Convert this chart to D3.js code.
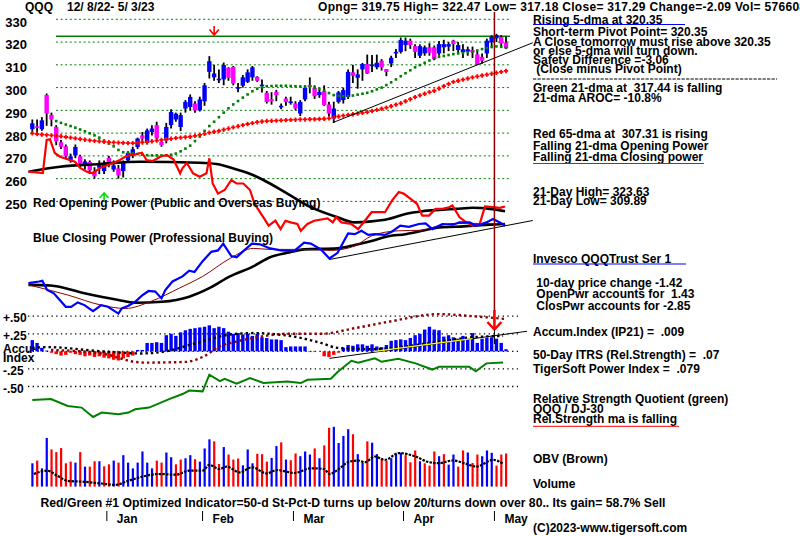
<!DOCTYPE html>
<html><head><meta charset="utf-8">
<script src="https://cdn.jsdelivr.net/npm/d3@7"></script>
<style>
body{margin:0;background:#fff}
svg{display:block}
text{font-family:"Liberation Sans",Arial,sans-serif;font-weight:bold;font-size:12px;fill:#000;white-space:pre}
</style></head>
<body><svg id="c" width="800" height="536"></svg>
<script>
// ---------- DATA ----------
const priceTicks = [330,320,310,300,290,280,270,260,250];
const resistance = 322.6;
const opens  = [281.7,283.0,281.7,296.7,288.0,282.7,276.0,274.2,268.0,270.2,
  269.8,266.1,267.3,263.3,264.8,263.3,269.1,264.0,264.5,263.3,
  268.0,270.2,273.9,279.0,276.1,280.5,283.5,276.1,276.8,283.5,
  286.0,282.7,290.8,291.5,293.0,290.0,294.0,306.9,304.5,303.6,
  303.6,308.7,309.1,299.9,300.8,302.5,304.5,304.7,301.0,297.7,
  294.9,298.1,291.7,295.2,293.6,293.0,288.6,294.8,301.1,299.9,
  296.7,298.4,292.6,286.4,293.7,294.5,295.9,306.7,304.3,308.0,
  310.3,309.8,308.9,311.8,308.1,310.6,315.0,315.7,318.7,320.6,
  318.2,314.0,315.0,317.7,317.7,315.0,317.7,318.0,320.6,316.5,
  315.5,315.8,316.5,314.6,313.5,315.0,319.9,321.6,322.3,319.75];
const closes = [284.3,282.3,285.6,288.6,286.0,276.4,274.0,269.8,269.8,273.9,
  266.6,267.6,263.6,261.0,266.3,266.3,266.3,265.8,261.4,267.3,
  271.3,272.9,277.6,277.6,281.2,282.0,277.7,274.7,282.7,289.3,
  288.5,287.9,293.7,295.9,289.9,294.8,301.0,311.6,306.2,303.9,
  309.9,304.3,301.8,300.2,304.5,306.7,308.9,303.0,301.3,293.7,
  294.0,296.7,292.0,293.7,293.9,290.8,293.7,299.9,300.3,296.2,
  298.1,292.3,288.6,290.8,297.9,298.9,306.9,305.2,305.8,310.3,
  306.2,310.1,310.9,308.9,306.9,313.1,315.7,320.9,320.6,318.7,
  315.7,318.2,317.7,315.3,312.5,319.1,319.1,319.1,319.1,318.7,
  316.8,316.8,315.5,310.2,311.8,320.6,322.3,323.1,319.4,317.29];
const highs = [286,286,287,297.4,289,283.5,277,275,271,275,
  270.5,268.5,268,265,268,268,270,268,266,268,
  272,274,278,280.5,282,283.5,285,277,284.5,290.5,
  289,289,294.5,297,294,296,302,313.8,310,308,
  311,309,309.5,302,305.5,308,309.5,305,303.5,298.5,
  298,299,293,296,296,294,294.5,301,304.5,301,
  299,301,293.8,293.8,298.5,300,308,310,308,310.8,
  314.5,314.3,314.5,312.5,308.1,314,317,322,322,321.5,
  319,319,318.5,319.5,318.5,320.5,321,320,321,320,
  319,318,318,316,315,321.5,323,323.6,323,322.47];
const lows = [280,280,281,283.2,283,274.7,273,269,267,269,
  265,264,262,260,262,262,265,263,260,260.5,
  267,269,273,276,275,279,277,274,275.5,282,
  285,280.9,289,290,289,289.5,292,304,303,302,
  301,303,301,298,300,302,303,302.5,297.8,293,
  292.5,294,290.5,292,292.5,290,287.5,294,297.5,295,
  295.5,292,287.5,284.5,293,293,295,302,299.5,303,
  306,306.9,308,307.5,305,309,313,315,316,317,
  313,313,314,314,312,314,315,316,316,315,
  313,314,313,309.9,310.5,313,318,320,318,317.18];
const ma65 = [279.9,279.6,279.4,279.2,279.0,278.8,278.6,278.3,278.0,277.7,
  277.4,277.1,276.8,276.6,276.4,276.2,276.0,275.9,275.8,275.7,
  275.6,275.6,275.7,275.9,276.1,276.4,276.7,277.0,277.3,277.5,
  277.8,278.0,278.2,278.4,278.8,279.2,279.7,280.2,280.6,281.0,
  281.5,282.0,282.5,283.0,283.5,284.0,284.4,284.8,285.1,285.3,
  285.4,285.5,285.6,285.7,285.8,285.9,286.0,286.0,286.1,286.1,
  286.2,286.3,286.5,286.9,287.3,287.7,288.0,288.3,288.6,288.9,
  289.2,289.7,290.2,290.7,291.2,291.8,292.5,293.1,294.0,294.9,
  295.8,296.6,297.3,298.0,298.6,299.6,300.6,301.6,302.5,303.0,
  303.5,304.0,304.5,304.9,305.3,305.7,306.1,306.5,306.9,307.3];
const ma21Start = 5;
const ma21 = [285.3,284.5,283.8,283.1,282.4,281.6,280.8,279.9,279.0,278.0,
  276.7,275.4,274.2,272.6,271.6,271.4,271.1,270.8,270.5,270.3,
  270.2,270.2,270.2,270.2,270.5,271.0,272.0,273.2,274.5,276.5,
  278.5,281.0,283.1,285.0,287.0,289.0,290.9,292.6,294.1,295.6,
  297.0,298.4,299.5,300.2,300.6,300.7,300.8,300.8,300.8,300.7,
  300.6,300.5,300.4,300.2,300.0,299.4,298.6,297.6,296.7,296.4,
  296.2,296.2,296.5,296.9,297.3,297.7,298.4,299.2,300.0,301.1,
  302.3,303.6,305.0,306.3,307.6,308.9,309.9,310.9,311.9,312.9,
  313.5,313.9,314.3,314.7,315.0,315.2,315.5,315.7,316.3,316.9,
  317.4,317.8,318.1,317.9,317.44];
const priceTrend = [[62.8,284.6],[104.6,319.7]];
// Opening / Closing power panel  [bar index, level]
const openPower = [[-0.8,128.3],[2.2,127],[3,160],[3.7,160.7],[4.7,147],[5.8,143.3],[8.9,138.3],[10,132],[11.4,128.3],[12.7,126.7],
  [14.1,132],[16.9,137],[18.3,140],[19.4,143.3],[20.4,145],[21.8,146],[22.9,147.3],[23.9,140],[25.2,139],[26.7,143.3],
  [28.1,145],[29.5,140.7],[30.9,126.7],[31.4,132],[32.3,137],[33.6,126.7],[35,123.3],[36.4,126.7],[37,141.7],[37.7,116.5],
  [38.8,106.4],[40.2,110],[41.6,120],[42.7,116.5],[44.1,116.5],[45.5,110],[46.2,99.6],[46.9,92.8],[48.3,82.7],[49.4,74.3],
  [50.8,79.3],[51.9,70.9],[52.9,79.3],[54,77.6],[55.4,76],[56.1,69.2],[57.5,76],[58.9,79.3],[61.7,81.7],[62.8,77.6],
  [63.5,82.7],[64.6,77.6],[66.7,76],[68.1,70.9],[69.5,79.3],[70.9,87.8],[72.3,87.8],[73.7,87.8],[75.2,99.6],[76.6,108],
  [77.6,106.4],[79,101.3],[80.4,96.2],[81.5,84.4],[82.9,84.4],[84.3,91.1],[85.7,91.1],[87.1,92.8],[87.8,94.5],[89.3,82.7],
  [90.7,77.6],[92.1,74.3],[93.5,76],[94.6,93.5],[96.3,92.8],[97.7,92.2],[98.8,93.5]];
const closePower = [[-0.8,16.8],[1.4,18.5],[2.1,19.2],[3.1,10],[4.5,6.7],[7,-6.8],[8.1,-6.8],[9.5,-2.4],[10.9,-5.1],[12.7,-11.2],
  [14.4,-5.1],[15.8,-6.8],[18,-13.6],[18.7,-8.5],[20.1,-5.8],[21.5,-1.8],[22.9,4.3],[24.3,9],[25.7,8.4],[27,1.6],
  [27.8,10],[29.3,18.5],[31.4,23.6],[32.8,29.3],[33.9,28],[35.6,38.8],[37.4,48.2],[38.8,49.6],[39.9,56.4],[41.6,43.9],
  [42.7,42.8],[44.1,48.9],[45.9,56.4],[47.6,55.7],[49.7,51.6],[51.9,49.6],[54.7,48.9],[56.8,57.4],[58.2,56.4],[60.3,50.6],
  [62.1,41.5],[63.8,47.2],[66,66.5],[67.4,65.8],[68.8,69.2],[70.2,65.1],[71.6,65.8],[73.7,65.1],[75.2,68.5],[76.9,74.3],
  [78.7,73.2],[80.8,76],[82.2,76.6],[83.6,70.9],[85.7,76],[87.9,75.3],[89.3,77.6],[91.4,77.6],[92.8,74.3],[94.9,77.6],
  [96.3,81],[97.7,77.6],[98.8,74.3]];
const openPowerMA = [[-0.8,128.3],[5.8,133.3],[14.1,136],[22.5,138.3],[35,137.3],[38.5,136],[42.7,130.5],[46.1,125],[48.3,120],[53.3,106.4],
  [58.2,92.8],[63.8,82.7],[67.4,77.6],[70.9,78.6],[74.4,81],[78,86.1],[81.5,88.8],[85,90.1],[88.5,91.1],[92.1,92.2],[95.6,91.1],[98.8,88.8]];
const closePowerMA = [[-0.8,15.1],[3.8,14.5],[10.9,6.7],[18,0],[21.5,-2.8],[27.1,-1.8],[32.8,3.3],[37,11.8],[41.3,23.6],[46.2,33.7],
  [49.7,42.8],[53.3,47.2],[56.8,50.6],[63.8,51.6],[67.4,55],[70.9,59],[74.4,63.8],[78,65.8],[81.5,69.2],[85,72.6],[88.5,73.2],[92.1,74.3],[95.6,75.3],[98.8,76]];
const closePowerMA2 = [[-0.8,15.1],[7.4,5],[14.4,-5.1],[19.4,-8.5],[25,-1],[30.7,11.8],[35.6,23.6],[41.3,41.5],[46.2,51.6],[49.7,50.6],
  [56.8,50.6],[62.4,49.6],[67.4,54],[70.9,64.1],[76.5,69.2],[81.5,69.8],[85,74.3],[88.5,76.6],[92.1,76.6],[98.8,76]];
const powerTrend = [[62.1,40.5],[104.6,79.5]];
// Accumulation panel
const accumTicks = [0.5,0.25,0,-0.25,-0.5];
const accumTickLabels = ["+.50","+.25","","-.25","-.50"];
const accum = [.16,.12,.05,.01,-.02,-.04,-.06,-.05,-.02,-.04,
  -.05,-.07,-.06,-.08,-.07,-.09,-.10,-.12,-.13,-.10,
  -.08,-.06,.02,.02,.12,.12,.13,.12,.23,.25,
  .22,.27,.30,.32,.33,.34,.35,.37,.33,.35,
  .33,.28,.25,.26,.24,.25,.22,.25,.20,.19,
  .17,.17,.16,.06,.07,.07,.07,.07,-.01,-.01,
  0,-.07,-.08,-.05,-.02,.05,.09,.08,.10,.10,
  .08,.10,.07,.06,.09,.15,.16,.17,.16,.19,
  .23,.25,.31,.35,.31,.30,.21,.23,.20,.18,
  .22,.18,.26,.12,.18,.19,.20,.18,.12,.03];
const accumMA = [[0,.05],[3.2,.06],[14.5,0],[22.9,-.03],[28.6,.01],[32.8,.09],[37,.17],[41.3,.24],[46.2,.26],[49.7,.25],
  [54.7,.21],[60.3,.12],[63.8,.05],[70.9,.03],[78,.07],[85,.14],[92,.2],[98.4,.22]];
const accumMA2 = [[3.9,.02],[14.5,-.03],[21.5,-.15],[23.6,-.16],[32.1,-.15],[35.6,-.08],[39.2,.07],[42.7,.14],[46.2,.19],[53.3,.25],
  [60.3,.25],[67.4,.33],[74.4,.42],[85,.53],[92,.5],[99,.46]];
const accumYellow = [[71.6,0],[81.5,.09],[92,.18]];
const accumTrend = [[62.1,-.1],[103.4,.286]];
const relStrength = [[0,-.693],[3.9,-.679],[7.4,-.776],[10.3,-.8],[12.7,-.934],[14.5,-.871],[18,-.896],[20.1,-.871],[21.5,-.824],[24.4,-.8],
  [28.6,-.679],[31.4,-.607],[32.8,-.557],[35.6,-.569],[37,-.331],[39.2,-.423],[40.2,-.39],[42.7,-.461],[45.5,-.38],[48.3,-.451],
  [53.3,-.429],[56.1,-.451],[57.5,-.404],[62.4,-.39],[63.8,-.293],[66.7,-.134],[68.1,-.163],[71.6,-.1],[73,-.149],[76.5,-.104],
  [80.1,-.171],[83.6,-.259],[85,-.22],[91.3,-.22],[92.7,-.283],[94.9,-.171],[98.4,-.157]];
// Volume (millions) and OBV
const volume = [41.4,46.2,32.4,86.4,66,61.2,68.4,41.4,44.4,42.6,
  61.2,35.4,35.4,45,45,36,39.6,46.2,42.6,55.8,
  42.6,32.4,42.6,62.4,42.6,32.4,46.2,42.6,60.6,52.2,
  39.6,48,50.4,55.8,48.6,44.4,67.8,84,80.4,40.2,
  70.2,57,48,49.8,37.8,66,41.4,58.2,57.6,44.4,
  51,72,78.6,48,46.8,58.8,54,62.4,57,67.8,
  50.4,73.2,104.4,106.2,77.4,90,102,93,57.6,42,
  80.4,78,57.6,49.8,45.6,50.4,58.2,60,55.8,43.2,
  64.2,45,41.4,37.2,62.4,54,57.6,39,57,35.4,
  64.2,60.6,42,57,54,64.2,60,37.2,57,58.8];
const volUp = [1,0,1,1,0,0,0,0,0,1, 0,1,0,0,1,0,0,1,0,1, 1,1,1,1,1,1,0,0,1,1,
  0,0,1,1,0,1,1,1,0,0, 1,0,0,0,1,1,1,0,0,0, 1,1,0,1,0,0,1,1,1,0,
  1,0,0,1,1,1,1,0,1,1, 0,1,1,0,0,1,1,1,0,0, 0,1,0,0,0,1,0,1,1,0, 0,1,0,0,1,1,1,0,0,0];
const obv = [[0.3,16],[3.1,19.3],[5.2,14.3],[7.4,9.2],[10.9,8.2],[14.4,6.5],[17.3,5.1],[20.1,9.2],[22.9,13.2],[26.4,16],
  [30,15.3],[32.8,19.3],[35.6,19.3],[37,25.1],[39.1,21],[40.6,23.4],[43.4,17.6],[45.9,22.7],[49,16.6],[51.1,20],
  [54.7,17],[58.2,21.7],[61,21],[62.1,16],[63.8,20],[66,27.8],[68.1,29.5],[69.5,27.8],[71.6,33.5],[73.7,30.1],
  [76.6,36.9],[80.1,33.5],[82.9,27.8],[85,26.8],[87.9,29.5],[90.7,26.1],[92.8,23.4],[96.3,30.1],[98.5,26.1]];
const monthLabels = ["Jan","Feb","Mar","Apr","May"];
const monthBars = [16,36,55,78,97];
const signalBar = 97, topArrowBar = 38, upArrowBar = 15;

// ---------- SCALES ----------
const svg = d3.select("#c");
const x = d3.scaleLinear().domain([0,99]).range([32.3,506]);
const yP = d3.scaleLinear().domain([250,330]).range([201.4,19.3]);
const yPow = d3.scaleLinear().domain([0,150]).range([300,150]);
const yA = d3.scaleLinear().domain([-0.5,0.5]).range([386.5,316.2]);
const yV = d3.scaleLinear().domain([0,100]).range([486.6,430.3]);
const yO = d3.scaleLinear().domain([0,40]).range([490,450]);
const line = (ys) => d3.line().x(d=>x(d[0])).y(d=>ys(d[1]));

// ---------- PRICE PANEL ----------
svg.append("g").selectAll("line").data(priceTicks).join("line")
  .attr("x1",56).attr("x2",510).attr("y1",d=>yP(d)).attr("y2",d=>yP(d))
  .attr("stroke","#008000").attr("stroke-dasharray","2,2.6").attr("stroke-width",1);
svg.append("g").selectAll("text").data(priceTicks).join("text")
  .attr("x",27).attr("y",d=>yP(d)+7.4).attr("text-anchor","end")
  .style("font-size","13px").text(d=>d);
svg.append("line").attr("x1",56).attr("x2",510).attr("y1",yP(resistance)).attr("y2",yP(resistance))
  .attr("stroke","#008000").attr("stroke-width",1.5);

const idx = d3.range(opens.length);
const cg = svg.append("g");
cg.selectAll("line").data(idx).join("line")
  .attr("x1",i=>x(i)).attr("x2",i=>x(i)).attr("y1",i=>yP(highs[i])).attr("y2",i=>yP(lows[i]))
  .attr("stroke","#000").attr("stroke-width",1.8);
cg.selectAll("rect").data(idx).join("rect")
  .attr("x",i=>x(i)-2.2).attr("width",4.4)
  .attr("y",i=>yP(Math.max(opens[i],closes[i])))
  .attr("height",i=>Math.max(1.6,yP(Math.min(opens[i],closes[i]))-yP(Math.max(opens[i],closes[i]))))
  .attr("fill",i=>closes[i]>=opens[i]?"#0000ff":"#ff00ff");
svg.append("g").selectAll("rect").data(ma21).join("rect")
  .attr("x",(d,k)=>x(k+ma21Start)-1.3).attr("y",d=>yP(d)-1.3).attr("width",2.6).attr("height",2.6).attr("fill","#008000");
svg.append("g").selectAll("path").data(ma65).join("path")
  .attr("transform",(d,k)=>`translate(${x(k)},${yP(d)})`)
  .attr("d","M-2.2,0H2.2M0,-2.2V2.2").attr("stroke","#ff0000").attr("stroke-width",1.8);
svg.append("path").datum(priceTrend).attr("d",line(yP)).attr("fill","none").attr("stroke","#000").attr("stroke-width",1);

// ---------- POWER PANEL ----------
svg.append("path").datum(openPowerMA).attr("d",line(yPow).curve(d3.curveMonotoneX)).attr("fill","none").attr("stroke","#000").attr("stroke-width",2.6);
svg.append("path").datum(closePowerMA).attr("d",line(yPow).curve(d3.curveMonotoneX)).attr("fill","none").attr("stroke","#000").attr("stroke-width",2.6);
svg.append("path").datum(closePowerMA2).attr("d",line(yPow).curve(d3.curveMonotoneX)).attr("fill","none").attr("stroke","#8b0000").attr("stroke-width",1);
svg.append("path").datum(openPower).attr("d",line(yPow)).attr("fill","none").attr("stroke","#ff0000").attr("stroke-width",2.2);
svg.append("path").datum(closePower).attr("d",line(yPow)).attr("fill","none").attr("stroke","#0000ff").attr("stroke-width",2.2);
svg.append("path").datum(powerTrend).attr("d",line(yPow)).attr("fill","none").attr("stroke","#000").attr("stroke-width",1);
svg.append("text").attr("x",33).attr("y",207.3).text("Red Opening Power (Public and Overseas Buying)");
svg.append("text").attr("x",33).attr("y",242).text("Blue Closing Power (Professional Buying)");

// ---------- ACCUM PANEL ----------
svg.append("g").selectAll("line").data(accumTicks).join("line")
  .attr("x1",28).attr("x2",518).attr("y1",d=>yA(d)).attr("y2",d=>yA(d))
  .attr("stroke","#000").attr("stroke-dasharray","1.3,3.4").attr("stroke-width",1.3);
svg.append("g").selectAll("text").data(accumTicks).join("text")
  .attr("x",3).attr("y",d=>yA(d)+6).text((d,k)=>accumTickLabels[k]);
svg.append("text").attr("x",3).attr("y",yA(0)+1.5).text("Accu-");
svg.append("text").attr("x",3).attr("y",yA(0)+10.8).text("Index");
svg.append("g").selectAll("rect").data(accum).join("rect")
  .attr("x",(d,k)=>x(k)-1.7).attr("width",3.4)
  .attr("y",d=>d>=0?yA(d):yA(0)).attr("height",d=>Math.abs(yA(d)-yA(0)))
  .attr("fill",d=>d>=0?"#0000ff":"#ff0000");
svg.append("path").datum(accumMA).attr("d",line(yA).curve(d3.curveMonotoneX)).attr("fill","none").attr("stroke","#000").attr("stroke-width",2.4).attr("stroke-dasharray","2.4,3");
svg.append("path").datum(accumMA2).attr("d",line(yA).curve(d3.curveMonotoneX)).attr("fill","none").attr("stroke","#8b0000").attr("stroke-width",2.4).attr("stroke-dasharray","2.4,3");
svg.append("path").datum(accumTrend).attr("d",line(yA)).attr("fill","none").attr("stroke","#000").attr("stroke-width",1);
svg.append("path").datum(accumYellow).attr("d",line(yA)).attr("fill","none").attr("stroke","#ffff00").attr("stroke-width",1.3);
svg.append("path").datum(relStrength).attr("d",line(yA)).attr("fill","none").attr("stroke","#008000").attr("stroke-width",2);

// ---------- VOLUME PANEL ----------
svg.append("g").selectAll("rect").data(volume).join("rect")
  .attr("x",(d,k)=>x(k)-1).attr("width",2.2)
  .attr("y",d=>yV(d)).attr("height",d=>yV(0)-yV(d))
  .attr("fill",(d,k)=>volUp[k]?"#0000ff":"#ff0000");
svg.append("path").datum(obv).attr("d",line(yO).curve(d3.curveMonotoneX)).attr("fill","none").attr("stroke","#000").attr("stroke-width",2.2).attr("stroke-dasharray","2.5,1.2");

svg.append("g").selectAll("line").data(monthBars).join("line")
  .attr("x1",d=>x(d)-2).attr("x2",d=>x(d)-2).attr("y1",511).attr("y2",521).attr("stroke","#000").attr("stroke-width",1);
svg.append("g").selectAll("text").data(monthLabels).join("text")
  .attr("x",(d,k)=>x(monthBars[k])+8).attr("y",523).text(d=>d);

// ---------- SIGNAL MARKERS ----------
const sx = x(signalBar)-2;
svg.append("line").attr("x1",sx).attr("x2",sx).attr("y1",12).attr("y2",322).attr("stroke","#8b0000").attr("stroke-width",1.5);
svg.append("line").attr("x1",sx).attr("x2",sx).attr("y1",310).attr("y2",329).attr("stroke","#ff0000").attr("stroke-width",2.5);
svg.append("path").attr("d",`M${sx-7},322L${sx},329.5L${sx+7},322`).attr("fill","none").attr("stroke","#ff0000").attr("stroke-width",2.5);
svg.append("line").attr("x1",sx).attr("x2",sx).attr("y1",330).attr("y2",344).attr("stroke","#000").attr("stroke-width",1);
const tx = x(topArrowBar);
svg.append("line").attr("x1",tx).attr("x2",tx).attr("y1",26).attr("y2",35).attr("stroke","#ff0000").attr("stroke-width",1.6);
svg.append("path").attr("d",`M${tx-4.7},29.5L${tx},35L${tx+4.7},29.5`).attr("fill","none").attr("stroke","#ff0000").attr("stroke-width",1.6);
const ux = x(upArrowBar);
svg.append("path").attr("d",`M${ux-4.5},198L${ux},193L${ux+4.5},198M${ux},193V200.5`).attr("fill","none").attr("stroke","#00e000").attr("stroke-width",1.6);

// ---------- HEADER & TEXT ----------
svg.append("text").attr("x",25).attr("y",11).text("QQQ");
svg.append("text").attr("x",67).attr("y",11).text("12/ 8/22- 5/ 3/23");
svg.append("text").attr("x",318).attr("y",11).attr("textLength",502).attr("lengthAdjust","spacing")
  .text("Opng= 319.75 High= 322.47 Low= 317.18 Close= 317.29 Change=-2.09 Vol= 57660800");

const rt = [
  ["Rising 5-dma at 320.35",533,23.5],
  ["Short-term Pivot Point= 320.35",533,35.5],
  ["A Close tomorrow must rise above 320.35",533,45.5],
  ["or else 5-dma will turn down.",533,54.5],
  ["Safety Difference =-3.06",533,63.8],
  [" (Close minus Pivot Point)",533,73],
  ["Green 21-dma at  317.44 is falling",533,92.3],
  ["21-dma AROC= -10.8%",533,102.3],
  ["Red 65-dma at  307.31 is rising",533,137.7],
  ["Falling 21-dma Opening Power",533,149.8],
  ["Falling 21-dma Closing power",533,160.5],
  ["21-Day High= 323.63",533,195.5],
  ["21-Day Low= 309.89",533,204.5],
  ["Invesco QQQTrust Ser 1",533,262.7],
  [" 10-day price change -1.42",533,286.7],
  [" OpenPwr accounts for  1.43",533,298.3],
  [" ClosPwr accounts for -2.85",533,310],
  ["Accum.Index (IP21) =  .009",533,336],
  ["50-Day ITRS (Rel.Strength) =  .07",533,359.3],
  ["TigerSoft Power Index =  .079",533,372.5],
  ["Relative Strength Quotient (green)",533,403],
  ["QQQ / DJ-30",533,412.6],
  ["Rel.Strength ma is falling",533,423],
  ["OBV (Brown)",533,463],
  ["Volume",533,488.4],
  ["(C)2023-www.tigersoft.com",533,531.5]
];
svg.append("g").selectAll("text").data(rt).join("text").attr("x",d=>d[1]).attr("y",d=>d[2]).text(d=>d[0]);
svg.append("line").attr("x1",533).attr("x2",685).attr("y1",24.5).attr("y2",24.5).attr("stroke","#0000ff").attr("stroke-width",1);
svg.append("line").attr("x1",533).attr("x2",777).attr("y1",79).attr("y2",79).attr("stroke","#000").attr("stroke-width",1.2).attr("stroke-dasharray","3.3,1.2");
svg.append("line").attr("x1",533).attr("x2",704).attr("y1",163.5).attr("y2",163.5).attr("stroke","#ff0000").attr("stroke-width",1);
svg.append("line").attr("x1",533).attr("x2",686).attr("y1",264).attr("y2",264).attr("stroke","#0000ff").attr("stroke-width",1);
svg.append("line").attr("x1",533).attr("x2",679).attr("y1",426.3).attr("y2",426.3).attr("stroke","#ff0000").attr("stroke-width",1);
svg.append("text").attr("x",40.5).attr("y",507).attr("textLength",625).attr("lengthAdjust","spacingAndGlyphs")
  .text("Red/Green #1 Optimized Indicator=50-d St-Pct-D turns up below 20/turns down over 80.. Its gain= 58.7% Sell");
</script></body></html>
